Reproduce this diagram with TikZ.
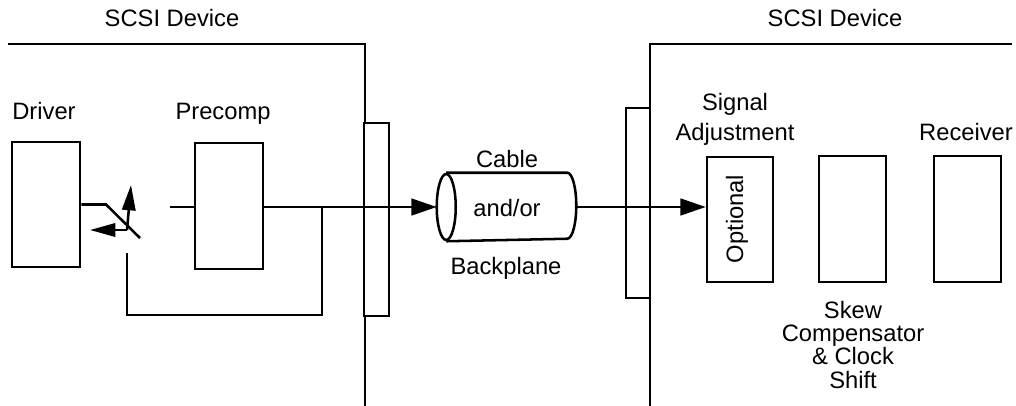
\documentclass[tikz,border=0pt]{standalone}
\usepackage{fontspec}
\setmainfont{Liberation Sans}
\usetikzlibrary{arrows.meta}
\begin{document}
\begin{tikzpicture}[x=0.75pt,y=-0.75pt,line width=1.9pt,
  lbl/.style={font=\fontsize{17.8}{17.5}\selectfont,anchor=base,inner sep=0,align=center},
  box/.style={draw,fill=white,inner sep=0},
  tip/.style={-{Triangle[length=19pt,width=12.5pt]}},
  stip/.style={-{Triangle[length=19pt,width=10pt]}}]
\useasboundingbox (0,0) rectangle (1016,406);
% device outlines
\coordinate (dl0) at (8,44);
\coordinate (dl1) at (365,44);
\coordinate (dl2) at (365,410);
\coordinate (dr0) at (1012,44);
\coordinate (dr1) at (650,44);
\coordinate (dr2) at (650,410);
\draw (dl0) -- (dl1) -- (dl2);
\draw (dr0) -- (dr1) -- (dr2);
\node[lbl] (devL) at (172,27) {SCSI Device};
\node[lbl] (devR) at (835,27) {SCSI Device};
% boxes
\node[box,minimum width=68*0.75pt,minimum height=125*0.75pt] (driver) at (46,204.5) {};
\node[box,minimum width=68*0.75pt,minimum height=126*0.75pt] (precomp) at (229,206) {};
\node[box,minimum width=25*0.75pt,minimum height=193*0.75pt] (connL) at (376.5,219.5) {};
\node[box,minimum width=24*0.75pt,minimum height=190*0.75pt] (connR) at (638,203) {};
\node[box,minimum width=66*0.75pt,minimum height=125*0.75pt] (sig) at (740,219.5) {};
\node[box,minimum width=67*0.75pt,minimum height=126*0.75pt] (skew) at (852.5,219) {};
\node[box,minimum width=67*0.75pt,minimum height=126*0.75pt] (recv) at (967.5,219) {};
% labels
\node[lbl] (tdriver) at (44,120) {Driver};
\node[lbl] (tprecomp) at (223,120) {Precomp};
\node[lbl] (tcable) at (507,167) {Cable};
\node[lbl] (tandor) at (507,216) {and/or};
\node[lbl] (tback) at (506,274) {Backplane};
\node[lbl] (tsig1) at (735,111) {Signal};
\node[lbl] (tsig2) at (735,141) {Adjustment};
\node[lbl] (trecv) at (966,141) {Receiver};
\node[lbl,anchor=center,rotate=90] (topt) at (737,219) {Optional};
\node[lbl] (tskew) at (853,388) {Skew\\Compensator\\\& Clock\\Shift};
% cable cylinder
\node[inner sep=0,minimum width=137*0.75pt,minimum height=66*0.75pt] (cable) at (506.5,207) {};
\draw ([xshift=7.125pt]cable.north west) -- ([xshift=-6.75pt]cable.north east)
  arc[start angle=90,end angle=-90,x radius=6.75pt,y radius=24.75pt]
  -- ([xshift=7.125pt]cable.south west);
\draw ([xshift=7.125pt]cable.west) ellipse [x radius=7.125pt,y radius=24.75pt];
% switch
\coordinate (sw1) at (106,204.5);
\coordinate (sw2) at (140,238);
\coordinate (swc) at (127,230);
\coordinate (swup) at (131,185);
\coordinate (swleft) at (90,230);
\draw (driver.east) -- (sw1) -- (sw2);
\draw[stip] (swc) -- (swup);
\draw[stip] (swc) -- (swleft);
% precomp input and main line
\coordinate (pin) at (170,207);
\draw (pin) -- (pin -| precomp.west);
\draw[tip] (precomp.east |- cable.west) -- (cable.west);
% feedback loop
\coordinate (fb) at (322,207);
\coordinate (fbl) at (127,315);
\coordinate (fbend) at (127,253);
\draw (fb) |- (fbl) -- (fbend);
% to signal adjustment
\draw[tip] (cable.east) -- (cable.east -| sig.west);
\end{tikzpicture}
\end{document}
